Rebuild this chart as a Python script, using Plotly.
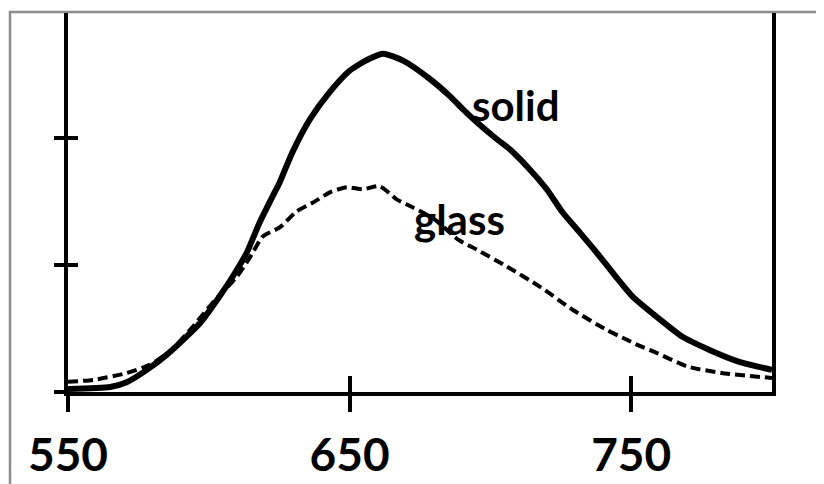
import plotly.graph_objects as go

# Wavelength (nm) and intensity (arbitrary units)
solid_x = [550, 565, 571, 578, 585, 592, 597, 603, 608.5, 613.5, 618, 622.7, 625.2, 629.8, 636, 643,
           650, 657, 662, 669, 678.4, 685.5, 690.1, 695.1, 702.2, 706.8, 713.9, 720, 725.6, 731.7, 737.7,
           744.8, 750.5, 759, 768.2, 777.8, 788.4, 800]
solid_y = [0.024, 0.039, 0.079, 0.174, 0.292, 0.434, 0.545, 0.726, 0.908, 1.097, 1.33, 1.54, 1.65, 1.89, 2.147, 2.36,
           2.526, 2.62, 2.66, 2.605, 2.463, 2.328, 2.226, 2.123, 1.989, 1.91, 1.752, 1.594, 1.413, 1.255, 1.097,
           0.9, 0.75, 0.592, 0.434, 0.331, 0.237, 0.174]

glass_x = [550, 559, 571, 579, 586, 594, 601.4, 610, 614.6, 619.2, 625.2, 631.2, 637, 643, 649, 654.7, 660.7,
           666.7, 672.4, 680.2, 688.4, 695.1, 705.8, 717.5, 729.2, 741.2, 747, 753, 759, 770, 782, 800]
glass_y = [0.08, 0.095, 0.15, 0.213, 0.316, 0.505, 0.702, 0.908, 1.058, 1.223, 1.294, 1.42, 1.49, 1.57, 1.61, 1.594, 1.618,
           1.515, 1.452, 1.357, 1.2, 1.12, 0.987, 0.829, 0.647, 0.489, 0.426, 0.363, 0.308, 0.2, 0.15, 0.11]

x_ticks = [550, 650, 750]
x_tick_text = ["550", "650", "750"]
y_ticks = [0, 1, 2]

labels = ["solid", "glass"]
label_x = [709, 689]
label_y = [2.26, 1.36]

fig = go.Figure()
fig.add_trace(go.Scatter(x=glass_x, y=glass_y, mode="lines", name="glass",
                         line=dict(color="black", width=4, dash="10px,5px", shape="spline", smoothing=0.6)))
fig.add_trace(go.Scatter(x=solid_x, y=solid_y, mode="lines", name="solid",
                         line=dict(color="black", width=6, shape="spline", smoothing=0.6)))

for t, lx, ly in zip(labels, label_x, label_y):
    fig.add_annotation(x=lx, y=ly, text=t, showarrow=False, xanchor="center", yanchor="middle",
                       font=dict(family="Lato", size=42, color="black", weight="bold"))

# the page body adds an 8px margin, so the figure is 8px smaller than the window
W, H = 816, 476
ml, mr, mt, mb = 60, 52, 5, 92
pw, ph = W - ml - mr, H - mt - mb

# outer chart frame (gray)
fig.add_shape(type="rect", xref="paper", yref="paper",
              x0=(2 - ml) / pw, x1=(W + 20 - ml) / pw,
              y0=-(H + 20 - mt - ph) / ph, y1=(H - mb - 4) / ph,
              line=dict(color="#8c8c8c", width=2.5), fillcolor="rgba(0,0,0,0)", layer="below")

axis_common = dict(showgrid=False, zeroline=False, automargin=False)
fig.update_layout(
    width=W, height=H, margin=dict(l=ml, r=mr, t=mt, b=mb, autoexpand=False),
    paper_bgcolor="white", plot_bgcolor="white", showlegend=False,
    xaxis=dict(range=[550, 800], tickvals=x_ticks, ticktext=x_tick_text, ticks="outside", ticklen=16,
               tickwidth=4, tickcolor="black", showline=True, linewidth=4, linecolor="black",
               ticklabelstandoff=4,
               tickfont=dict(family="Lato", size=46, color="black", weight="bold"), **axis_common),
    xaxis2=dict(range=[550, 800], overlaying="x", anchor="y", side="bottom", tickvals=x_ticks,
                ticks="inside", ticklen=16, tickwidth=4, tickcolor="black", showticklabels=False,
                showline=False, **axis_common),
    yaxis=dict(range=[0, 2.98], tickvals=y_ticks, ticks="outside", ticklen=10, tickwidth=4, tickcolor="black",
               showticklabels=False, showline=True, mirror=True, linewidth=4, linecolor="black", **axis_common),
    yaxis2=dict(range=[0, 2.98], overlaying="y", anchor="x", side="left", tickvals=y_ticks, ticks="inside",
                ticklen=10, tickwidth=4, tickcolor="black", showticklabels=False, showline=False, **axis_common),
)
# invisible trace to activate the overlay axes (inner half of the crossing ticks)
fig.add_trace(go.Scatter(x=[550], y=[0], xaxis="x2", yaxis="y2", mode="markers",
                         marker=dict(opacity=0), hoverinfo="skip", showlegend=False))

fig.write_html("out.html", config={"displayModeBar": False})
